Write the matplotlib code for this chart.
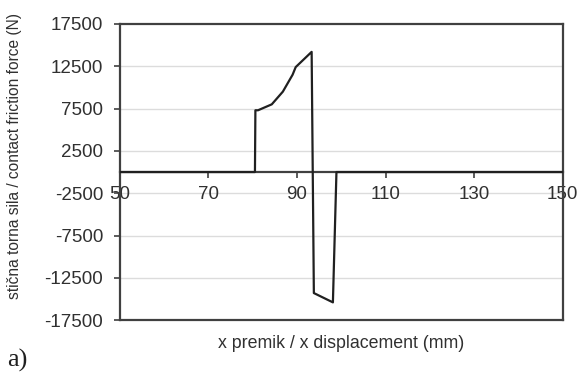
import matplotlib
matplotlib.use('Agg')
from matplotlib import pyplot as plt

# values
x_mm = [50, 80.5, 80.6, 81.2, 84.3, 86.8, 89.0, 89.7, 93.3, 93.8, 98.1, 98.9, 150]
force_n = [0, 0, 7300, 7300, 8000, 9500, 11500, 12400, 14200, -14300, -15400, 0, 0]
x_ticks = [50, 70, 90, 110, 130, 150]
y_ticks = [17500, 12500, 7500, 2500, -2500, -7500, -12500, -17500]

plt.rcParams['font.family'] = ['Liberation Sans', 'DejaVu Sans']
plt.rcParams['axes.unicode_minus'] = False
fig = plt.figure(figsize=(5.79, 3.74), dpi=100)
ax = fig.add_axes([0.207, 0.144, 0.765, 0.792])

ax.set_xlim(50, 150)
ax.set_ylim(-17500, 17500)
ax.set_yticks(y_ticks)
ax.set_xticks(x_ticks)
for yv in y_ticks[1:-1]:
    ax.axhline(yv, color='#dcdcdc', lw=1.0, zorder=0)

ax.plot(x_mm, force_n, color='#202020', lw=1.6, zorder=3)

# x axis crosses at zero, frame kept all round
ax.spines['bottom'].set_position(('data', 0))
ax.axhline(-17500, color='#404040', lw=1.6, clip_on=False)
for s in ['left', 'top', 'right', 'bottom']:
    ax.spines[s].set_color('#404040')
    ax.spines[s].set_linewidth(1.6)

ax.tick_params(axis='y', labelsize=13.5, colors='#404040', labelcolor='#303030', length=4, width=1.2, pad=8)
ax.tick_params(axis='x', labelsize=13.5, colors='#404040', labelcolor='#303030', length=4, width=1.2, pad=6)

ax.set_ylabel('stična torna sila / contact friction force (N)', fontsize=11.2, color='#303030')
ax.yaxis.set_label_coords(-0.222, 0.554)
ax.set_xlabel('x premik / x displacement (mm)', fontsize=12.8, color='#303030')
ax.xaxis.set_label_coords(0.5, -0.05)

fig.text(0.013, 0.021, 'a)', fontsize=19, family='Liberation Serif', color='#202020')

fig.savefig('out.png', dpi=100)
